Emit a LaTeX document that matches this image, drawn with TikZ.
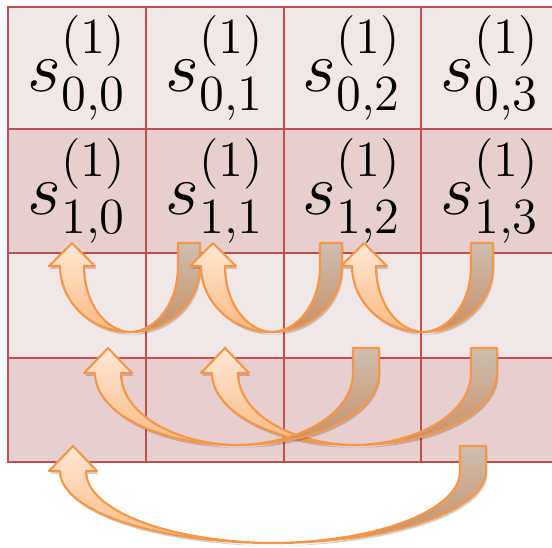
\documentclass[tikz,border=0pt]{standalone}
\usepackage{amsmath}
\usetikzlibrary{shadows}

\definecolor{cellline}{HTML}{C0504D}
\definecolor{celllight}{HTML}{F2E7E7}
\definecolor{celldark}{HTML}{E7CFD0}
\definecolor{arrline}{HTML}{F79646}
\definecolor{fronttop}{HTML}{FFE8D6}
\definecolor{frontbot}{HTML}{FCB97F}
\definecolor{backtop}{HTML}{CEBEB1}
\definecolor{backbot}{HTML}{C98F62}

% 弯箭头尺寸
\def\arrhw{23}\def\arrhl{23}\def\arrsw{12}\def\arrtw{11}

% 弯箭头: #1 箭头x, #2 尾部x, #3 顶部y, #4 底部y
\newcommand{\uarrow}[4]{%
  \pgfmathsetmacro{\ubx}{(#1+#2)/2}%
  \pgfmathsetmacro{\uhb}{#3+\arrhl}%
  \pgfmathsetmacro{\ufo}{0.552*(\ubx-#1+\arrsw)}%
  \pgfmathsetmacro{\ufi}{0.552*(\ubx-#1-\arrsw)}%
  \pgfmathsetmacro{\uv}{0.552*(#4-\uhb)}%
  \pgfmathsetmacro{\ubo}{0.552*(#2+\arrtw-\ubx)}%
  \pgfmathsetmacro{\ubi}{0.552*(#2-\arrtw-\ubx)}%
  \draw[backband] (\ubx,#4) .. controls (\ubx+\ubo,#4) and (#2+\arrtw,\uhb+\uv) .. (#2+\arrtw,\uhb)
    -- (#2+\arrtw,#3) -- (#2-\arrtw,#3) -- (#2-\arrtw,\uhb)
    .. controls (#2-\arrtw,\uhb+\uv) and (\ubx+\ubi,#4-1) .. cycle;
  \draw[frontband] (\ubx,#4) .. controls (\ubx-\ufo,#4) and (#1-\arrsw,\uhb+\uv) .. (#1-\arrsw,\uhb)
    -- (#1-\arrhw,\uhb) -- (#1,#3) -- (#1+\arrhw,\uhb) -- (#1+\arrsw,\uhb)
    .. controls (#1+\arrsw,\uhb+\uv) and (\ubx-\ufi,#4-1) .. cycle;
}

\begin{document}
\begin{tikzpicture}[x=0.01cm, y=-0.01cm,
  cell/.style={font=\fontsize{22}{26}\selectfont, inner sep=0pt},
  gridline/.style={draw=cellline, line width=0.8pt},
  backband/.style={draw=arrline, line width=0.6pt, line join=round,
    top color=backtop, bottom color=backbot,
    drop shadow={shadow xshift=0.4pt, shadow yshift=-0.8pt, opacity=0.18, fill=black}},
  frontband/.style={draw=arrline, line width=0.6pt, line join=round,
    top color=fronttop, bottom color=frontbot,
    drop shadow={shadow xshift=0.4pt, shadow yshift=-0.8pt, opacity=0.18, fill=black}}]
  % 边界
  \useasboundingbox (0,0) rectangle (552,547);
  \clip (0,0) rectangle (552,547);

  % 底色
  \fill[celllight] (8,7) rectangle (559,129);
  \fill[celldark] (8,129) rectangle (559,253);
  \fill[celllight] (8,253) rectangle (559,358);
  \fill[celldark] (8,358) rectangle (559,462);

  % 网格
  \draw[gridline] (8,7) rectangle (559,462);
  \draw[gridline] (8,129) -- (559,129);
  \draw[gridline] (8,253) -- (559,253);
  \draw[gridline] (8,358) -- (559,358);
  \draw[gridline] (146,7) -- (146,462);
  \draw[gridline] (284,7) -- (284,462);
  \draw[gridline] (421,7) -- (421,462);

  % 单元格数值
  \node[cell] (s00) at (77,68) {$s^{(1)}_{0,0}$};
  \node[cell] (s01) at (215,68) {$s^{(1)}_{0,1}$};
  \node[cell] (s02) at (352,68) {$s^{(1)}_{0,2}$};
  \node[cell] (s03) at (490,68) {$s^{(1)}_{0,3}$};

  \node[cell] (s10) at (77,191) {$s^{(1)}_{1,0}$};
  \node[cell] (s11) at (215,191) {$s^{(1)}_{1,1}$};
  \node[cell] (s12) at (352,191) {$s^{(1)}_{1,2}$};
  \node[cell] (s13) at (490,191) {$s^{(1)}_{1,3}$};

  % 第一层: 相邻两列
  \uarrow{72}{189}{243}{332}
  \uarrow{213}{331}{243}{332}
  \uarrow{364}{482}{243}{332}

  % 第二层: 隔两列
  \def\arrhw{24}\def\arrhl{25}\def\arrsw{13}\def\arrtw{13}
  \uarrow{225}{484}{348}{445}
  \uarrow{108}{366}{348}{445}

  % 第三层
  \uarrow{73}{473}{446}{543}
\end{tikzpicture}
\end{document}
